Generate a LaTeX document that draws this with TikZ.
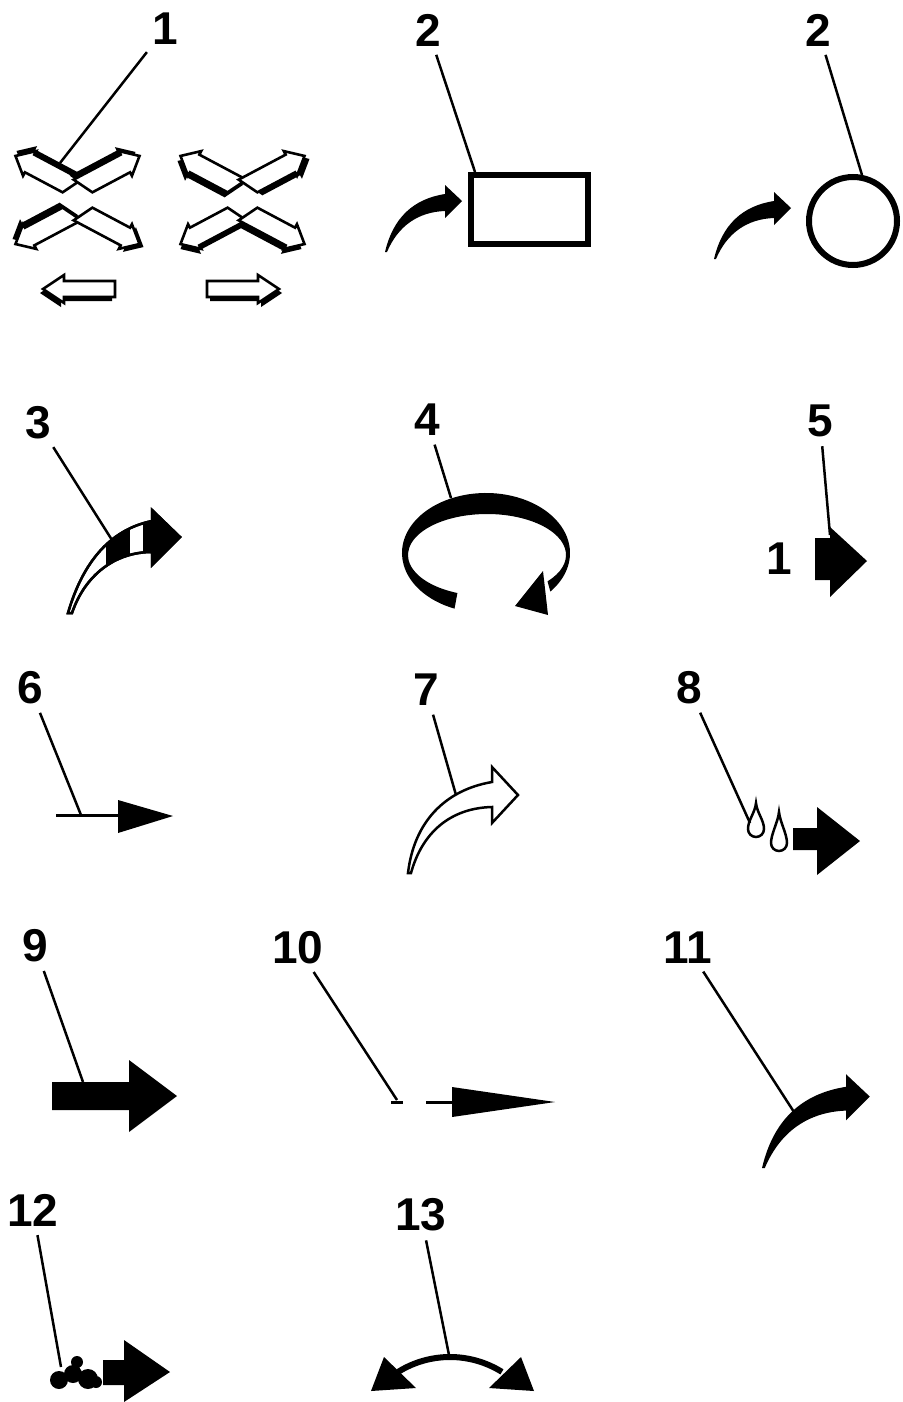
\documentclass[tikz,border=0pt]{standalone}
\usepackage{fontspec}
\setmainfont{Liberation Sans}
\usetikzlibrary{calc}

% open (outlined) arrows with a black shadow
\newcommand{\xarrow}[4]{% origin, angle, tail skew, shadow shift
  \fill[shift={#4}, shift={#1}, rotate=#2] ({-1*(#3)*10},-10) -- (48,-10) -- (48,-14) -- (64,0) -- (48,14) -- (48,10) -- ({(#3)*10},10) -- cycle;
  \filldraw[openfill, shift={#1}, rotate=#2] ({-1*(#3)*10},-10) -- (48,-10) -- (48,-14) -- (64,0) -- (48,14) -- (48,10) -- ({(#3)*10},10) -- cycle;
}
\newcommand{\harrow}[3]{% origin, angle, shadow shift
  \fill[shift={#3}, shift={#1}, rotate=#2] (0,-8) -- (51,-8) -- (51,-14) -- (72,0) -- (51,14) -- (51,8) -- (0,8) -- cycle;
  \filldraw[openfill, shift={#1}, rotate=#2] (0,-8) -- (51,-8) -- (51,-14) -- (72,0) -- (51,14) -- (51,8) -- (0,8) -- cycle;
}
\def\threepath{(68,613) .. controls (82,565) and (108,530) .. (152,521) -- (152,510) -- (180,537) -- (152,565) -- (152,552) .. controls (115,552) and (85,575) .. (72,613) -- cycle}

\tikzset{
  callout/.style={font=\fontsize{46}{46}\selectfont\bfseries, inner sep=0pt},
  leader/.style={line width=2.5pt, shorten <=9pt},
  openfill/.style={fill=white, draw=black, line width=2.6pt, line join=miter},
  pics/swoosh/.style={code={
    \fill (0,0) .. controls (8,-34) and (28,-53) .. (60,-58) -- (60,-67) -- (77,-51) -- (60,-34) -- (60,-41) .. controls (33,-40) and (13,-26) .. (2,0) -- cycle;
  }}
}

\begin{document}
\begin{tikzpicture}[x=1pt, y=-1pt]
    \useasboundingbox (0,0) rectangle (902,1402);

    % 1: opening / closing arrows
    \xarrow{(72,186)}{152}{-0.53}{(1,-5)}
    \xarrow{(83,186)}{28}{0.53}{(-4,-4)}
    \xarrow{(72,214)}{208}{0.53}{(-3,-5)}
    \xarrow{(83,214)}{332}{-0.53}{(4,3)}
    \xarrow{(237,186)}{152}{-0.53}{(-3,5)}
    \xarrow{(248,186)}{28}{0.53}{(5,3)}
    \xarrow{(237,214)}{208}{0.53}{(0,5)}
    \xarrow{(248,214)}{332}{-0.53}{(-3,5)}
    \harrow{(115,289)}{180}{(-3,4)}
    \harrow{(207,289)}{0}{(3,4)}
    \node[callout] (l1) at (165,29) {1};
    \coordinate (t1) at (60,163);
    \draw[leader] (l1) -- (t1);

    % 2: rectangle and circle
    \pic at (385,252) {swoosh};
    \draw[line width=6pt] (471,175) rectangle (588,244);
    \node[callout] (l2a) at (428,30) {2};
    \coordinate (t2a) at (475,172);
    \draw[leader] (l2a) -- (t2a);

    \pic at (714,259) {swoosh};
    \draw[line width=6pt] (853,221) circle (44);
    \node[callout] (l2b) at (818,30) {2};
    \coordinate (t2b) at (862,175);
    \draw[leader] (l2b) -- (t2b);

    % 3
    \filldraw[fill=white, line width=2.5pt] \threepath;
    \begin{scope}
        \clip \threepath;
        \fill (106,500) rectangle (130,620);
        \fill (143,500) rectangle (190,580);
    \end{scope}
    \draw[line width=2.5pt] \threepath;
    \node[callout] (l3) at (38,423) {3};
    \coordinate (t3) at (112,540);
    \draw[leader] (l3) -- (t3);

    % 4: rotation
    \fill ($(486,553)+(112:84 and 60)$) arc[start angle=112, end angle=400, x radius=84, y radius=60]
        -- ($(487,555)+(40:79 and 41)$) arc[start angle=400, end angle=112, x radius=79, y radius=41] -- cycle;
    \fill (515,606) -- (543,571) -- (548,615) -- cycle;
    \node[callout] (l4) at (427,420) {4};
    \coordinate (t4) at (451,498);
    \draw[leader] (l4) -- (t4);

    % 5
    \fill (815,538) -- (830,538) -- (830,527) -- (867,561) -- (830,597) -- (830,580) -- (815,580) -- cycle;
    \node[callout] (one5) at (779,559) {1};
    \node[callout] (l5) at (820,421) {5};
    \coordinate (t5) at (830,535);
    \draw[leader] (l5) -- (t5);

    % 6
    \draw[line width=3pt] (56,815) -- (118,815);
    \fill (118,800) -- (173,816) -- (118,833) -- cycle;
    \node[callout] (l6) at (30,688) {6};
    \coordinate (t6) at (81,815);
    \draw[leader] (l6) -- (t6);

    % 7
    \filldraw[fill=white, line width=2.5pt] (408,873) .. controls (414,822) and (445,790) .. (492,782) -- (492,767) -- (518,795)
        -- (492,823) -- (492,807) .. controls (450,808) and (422,833) .. (411,873) -- cycle;
    \node[callout] (l7) at (426,690) {7};
    \coordinate (t7) at (456,795);
    \draw[leader] (l7) -- (t7);

    % 8: drops
    \foreach \dx/\dt/\db in {756/803/829, 779/812/843}
        \draw[line width=2.5pt] (\dx,\dt) .. controls (\dx+1,\dt+10) and (\dx+8,\db-9) .. (\dx+8,\db)
            arc[start angle=0, end angle=180, radius=8] .. controls (\dx-8,\db-9) and (\dx-1,\dt+10) .. cycle;
    \fill (793,828) -- (817,828) -- (817,807) -- (860,841) -- (817,875) -- (817,850) -- (793,850) -- cycle;
    \node[callout] (l8) at (689,688) {8};
    \coordinate (t8) at (750,823);
    \draw[leader] (l8) -- (t8);

    % 9
    \fill (52,1082) -- (129,1082) -- (129,1060) -- (177,1096) -- (129,1132) -- (129,1110) -- (52,1110) -- cycle;
    \node[callout] (l9) at (35,946) {9};
    \coordinate (t9) at (83,1082);
    \draw[leader] (l9) -- (t9);

    % 10
    \draw[line width=3pt] (426,1102) -- (452,1102);
    \fill (452,1087) -- (555,1102) -- (452,1117) -- cycle;
    \node[callout] (l10) at (298,948) {10};
    \coordinate (t10) at (397,1100);
    \draw[leader] (l10) -- (t10);
    \draw[line width=3pt] (391,1102) -- (403,1102);

    % 11
    \pic[scale=1.4] at (762,1168) {swoosh};
    \node[callout] (l11) at (688,948) {11};
    \coordinate (t11) at (794,1112);
    \draw[leader] (l11) -- (t11);

    % 12: smoke
    \fill (59,1380) circle (9) (73,1374) circle (9) (88,1379) circle (10) (96,1382) circle (6) (77,1362) circle (6);
    \fill (103,1360) -- (124,1360) -- (124,1340) -- (170,1372) -- (124,1402) -- (124,1385) -- (103,1385) -- cycle;
    \node[callout] (l12) at (33,1210) {12};
    \coordinate (t12) at (61,1367);
    \draw[leader] (l12) -- (t12);

    % 13: swing both ways
    \draw[line width=6pt] ($(450,1455)+(238:98)$) arc[start angle=238, end angle=302, radius=98];
    \fill (371,1391) -- (384,1357) -- (416,1388) -- cycle;
    \fill (534,1391) -- (521,1357) -- (489,1388) -- cycle;
    \node[callout] (l13) at (421,1215) {13};
    \coordinate (t13) at (449,1355);
    \draw[leader] (l13) -- (t13);
\end{tikzpicture}
\end{document}
